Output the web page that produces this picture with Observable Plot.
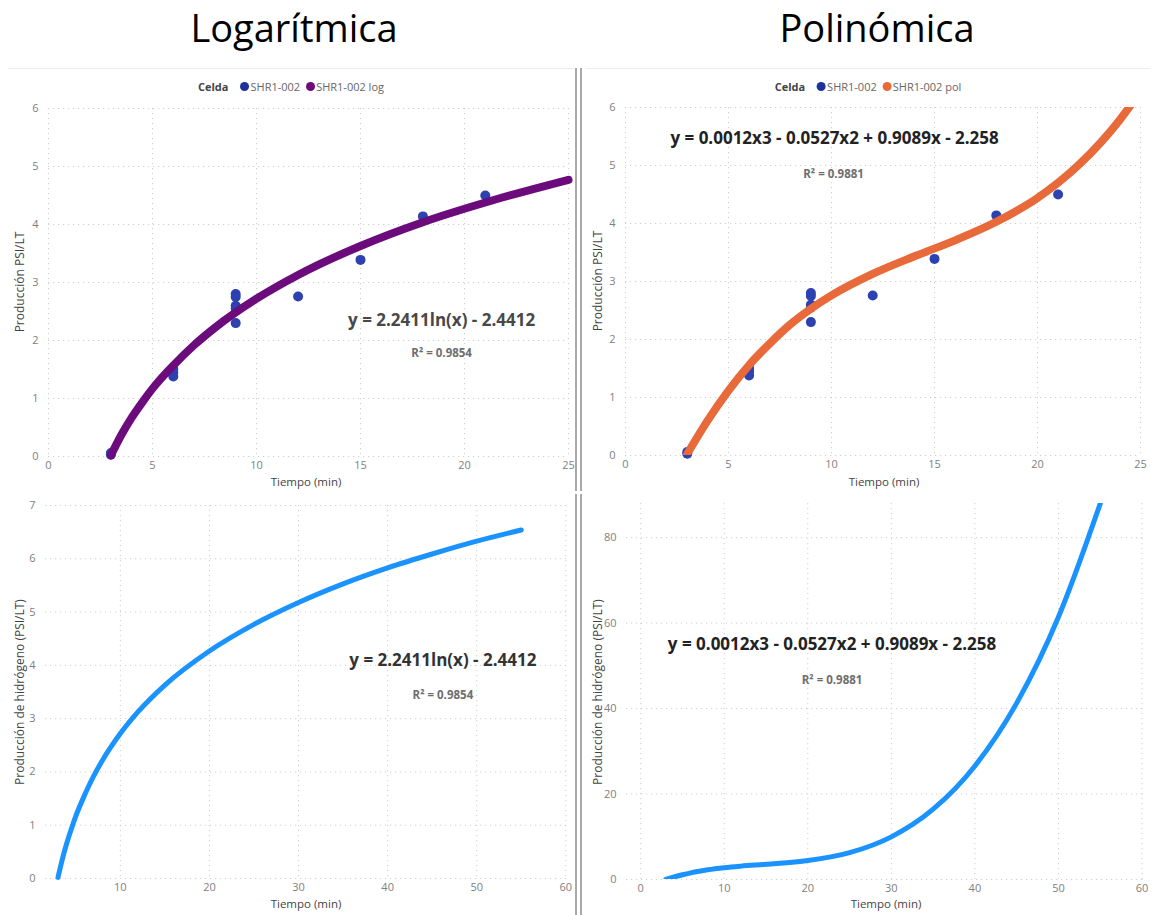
<!DOCTYPE html>
<html>
<head>
<meta charset="utf-8">
<script src="https://cdn.jsdelivr.net/npm/d3@7"></script>
<script src="https://cdn.jsdelivr.net/npm/@observablehq/plot@0.6"></script>
<style>
  body { margin: 0; background: #fff; }
  #root { position: relative; width: 1155px; height: 915px; overflow: hidden; font-family: 'Open Sans', sans-serif; }
  .abs { position: absolute; white-space: nowrap; }
  .title { font-size: 38px; color: #000; transform: translateX(-50%); line-height: 1; }
  .xlab { font-size: 11.5px; color: #444; transform: translateX(-50%); line-height: 1; }
  .ylab { font-size: 12px; color: #444; transform: translate(-50%, -50%) rotate(-90deg); line-height: 1; }
  .legend { font-size: 11px; color: #666; transform: translateX(-50%); display: flex; align-items: center; line-height: 1; }
  .legend b { color: #444; margin-right: 6px; }
  .legend .dot { display: inline-block; width: 9px; height: 9px; border-radius: 50%; margin: 0 1px 0 6px; }
  .vline { background: #a9a9a9; width: 2px; }
  .hline { background: #ececec; height: 1px; }
</style>
</head>
<body>
<div id="root"></div>
<script>
// ---------- data ----------
const panelTitles = ["Logarítmica", "Polinómica"];
const legendTitle = "Celda";
const seriesObs = "SHR1-002";
const seriesLog = "SHR1-002 log";
const seriesPol = "SHR1-002 pol";
const xTitle = "Tiempo (min)";
const yTitleTop = "Producción PSI/LT";
const yTitleBottom = "Producción de hidrógeno (PSI/LT)";
const eqLog = "y = 2.2411ln(x) - 2.4412";
const r2Log = "R² = 0.9854";
const eqPol = "y = 0.0012x3 - 0.0527x2 + 0.9089x - 2.258";
const r2Pol = "R² = 0.9881";

// observed points (Tiempo, Producción)
const obsX = [3, 3, 6, 6, 6, 9, 9, 9, 9, 9, 12, 15, 18, 21];
const obsY = [0.03, 0.06, 1.51, 1.45, 1.38, 2.80, 2.75, 2.60, 2.55, 2.30, 2.76, 3.39, 4.14, 4.50];

// logarithmic trend
const logFitX = [3, 3.5, 4, 4.5, 5, 6, 7, 8, 10, 12, 15, 18, 21, 25];
const logFitY = [0.02, 0.37, 0.67, 0.93, 1.17, 1.57, 1.92, 2.22, 2.72, 3.13, 3.63, 4.04, 4.38, 4.77];

// polynomial trend
const polFitX = [3, 4, 5, 6, 7, 8, 9, 10, 12, 14, 16, 18, 20, 22, 24, 25];
const polFitY = [0.03, 0.61, 1.12, 1.56, 1.93, 2.26, 2.53, 2.76, 3.13, 3.43, 3.71, 4.03, 4.44, 5.01, 5.79, 6.28];

// logarithmic curve extended to 55 min (bottom-left)
const logExtX = [3, 3.5, 4, 4.5, 5, 6, 7, 8, 10, 12, 15, 20, 25, 30, 35, 40, 45, 50, 55];
const logExtY = [0.02, 0.37, 0.67, 0.93, 1.17, 1.57, 1.92, 2.22, 2.72, 3.13, 3.63, 4.27, 4.77, 5.18, 5.53, 5.83, 6.09, 6.33, 6.54];

// polynomial curve extended to 55 min (bottom-right)
const polExtX = [3, 4, 5, 6, 7, 8, 10, 12, 15, 20, 25, 30, 35, 40, 45, 50, 55];
const polExtY = [0.03, 0.61, 1.12, 1.56, 1.93, 2.26, 2.76, 3.13, 3.57, 4.44, 6.28, 9.98, 16.45, 26.58, 41.28, 61.44, 87.96];

// ticks
const xTicksTop = [0, 5, 10, 15, 20, 25];
const yTicksTop = [0, 1, 2, 3, 4, 5, 6];
const xTicksBL = [10, 20, 30, 40, 50, 60];
const yTicksBL = [0, 1, 2, 3, 4, 5, 6, 7];
const xTicksBR = [0, 10, 20, 30, 40, 50, 60];
const yTicksBR = [0, 20, 40, 60, 80];

// ---------- build ----------
const root = document.getElementById("root");
const toRows = (xs, ys) => xs.map((x, i) => ({x, y: ys[i]}));
const obs = toRows(obsX, obsY);

const C_OBS = "#2D41B1", C_LOG = "#6B0B7C", C_POL = "#E8693A", C_EXT = "#1A93FF";

function div(cls, text, style) {
  const d = document.createElement("div");
  d.className = "abs " + cls;
  if (text != null) d.textContent = text;
  Object.assign(d.style, style);
  root.appendChild(d);
  return d;
}

function panel(o) {
  const gridStyle = {stroke: "#cfcfcf", strokeOpacity: 1, strokeDasharray: "1.2,3.8", strokeWidth: 1};
  const svg = Plot.plot({
    width: o.width, height: o.height,
    marginTop: o.mt, marginRight: o.mr, marginBottom: o.mb, marginLeft: o.ml,
    x: {domain: o.xDomain},
    y: {domain: o.yDomain},
    style: {fontFamily: "'Open Sans', sans-serif", fontSize: "11px", color: "#808080", background: "transparent", overflow: "visible"},
    marks: [
      Plot.gridX({ticks: o.xTicks, ...gridStyle}),
      Plot.gridY({ticks: o.yTicks, ...gridStyle}),
      Plot.axisX({ticks: o.xTicks, tickSize: 0, tickPadding: 5, label: null, tickFormat: d => String(d)}),
      Plot.axisY({ticks: o.yTicks, tickSize: 0, tickPadding: 10, label: null, tickFormat: d => String(d)}),
      ...o.marks
    ]
  });
  svg.style.position = "absolute";
  svg.style.left = o.left + "px";
  svg.style.top = o.top + "px";
  root.appendChild(svg);
}

function eqMarks(eq, r2, ex, ey, rx, ry, fill) {
  return [
    Plot.text([eq], {x: () => ex, y: () => ey, text: d => d, fontSize: 17, fontWeight: "bold", fill}),
    Plot.text([r2], {x: () => rx, y: () => ry, text: d => d, fontSize: 11.5, fontWeight: "bold", fill: "#6e6e6e"})
  ];
}

// titles
div("title", panelTitles[0], {left: "294px", top: "8px"});
div("title", panelTitles[1], {left: "877px", top: "8px"});

// separators
div("hline", null, {left: "8px", top: "68px", width: "566px"});
div("hline", null, {left: "586px", top: "68px", width: "564px"});
div("vline", null, {left: "575px", top: "68px", height: "423px"});
div("vline", null, {left: "580px", top: "68px", height: "423px"});
div("vline", null, {left: "575px", top: "494px", height: "421px"});
div("vline", null, {left: "580px", top: "494px", height: "421px"});

// legends
function legend(cx, second, secondColor) {
  const l = div("legend", null, {left: cx + "px", top: "81px"});
  l.innerHTML = `<b>${legendTitle}</b><span class="dot" style="background:#1e2f9e"></span>${seriesObs}<span class="dot" style="background:${secondColor}"></span>${second}`;
}
legend(291, seriesLog, C_LOG);
legend(868, seriesPol, C_POL);

const lineOpts = {x: "x", y: "y", curve: "monotone-x", strokeLinecap: "round", strokeLinejoin: "round"};

// top-left: logarithmic fit
panel({
  left: 0, top: 90, width: 576, height: 390, mt: 18, mr: 8, mb: 24, ml: 48,
  xDomain: [0, 25], yDomain: [0, 6], xTicks: xTicksTop, yTicks: yTicksTop,
  marks: [
    Plot.dot(obs, {x: "x", y: "y", r: 5, fill: C_OBS}),
    Plot.line(toRows(logFitX, logFitY), {...lineOpts, stroke: C_LOG, strokeWidth: 8}),
    ...eqMarks(eqLog, r2Log, 18.9, 2.34, 18.9, 1.78, "#484848")
  ]
});

// top-right: polynomial fit
panel({
  left: 580, top: 90, width: 575, height: 390, mt: 17, mr: 15, mb: 25, ml: 45,
  xDomain: [0, 25], yDomain: [0, 6], xTicks: xTicksTop, yTicks: yTicksTop,
  marks: [
    Plot.dot(obs, {x: "x", y: "y", r: 5, fill: C_OBS}),
    Plot.line(toRows(polFitX, polFitY), {...lineOpts, stroke: C_POL, strokeWidth: 8, clip: true}),
    ...eqMarks(eqPol, r2Pol, 10.15, 5.47, 10.1, 4.84, "#222")
  ]
});

// bottom-left: log curve extended
panel({
  left: 0, top: 495, width: 576, height: 420, mt: 10, mr: 8, mb: 37, ml: 45,
  xDomain: [1.6, 60.3], yDomain: [0, 7], xTicks: xTicksBL, yTicks: yTicksBL,
  marks: [
    Plot.line(toRows(logExtX, logExtY), {...lineOpts, stroke: C_EXT, strokeWidth: 5}),
    ...eqMarks(eqLog, r2Log, 46.2, 4.09, 46.2, 3.43, "#333")
  ]
});

// bottom-right: polynomial curve extended
panel({
  left: 580, top: 495, width: 575, height: 420, mt: 8, mr: 11, mb: 36, ml: 46,
  xDomain: [-1.7, 60.3], yDomain: [0, 88], xTicks: xTicksBR, yTicks: yTicksBR,
  marks: [
    Plot.line(toRows(polExtX, polExtY), {...lineOpts, stroke: C_EXT, strokeWidth: 5, clip: true}),
    ...eqMarks(eqPol, r2Pol, 22.9, 55.0, 22.9, 46.6, "#222")
  ]
});

// axis titles
div("xlab", xTitle, {left: "306px", top: "476px"});
div("xlab", xTitle, {left: "884px", top: "476px"});
div("xlab", xTitle, {left: "306px", top: "898px"});
div("xlab", xTitle, {left: "886px", top: "898px"});
div("ylab", yTitleTop, {left: "20px", top: "282px"});
div("ylab", yTitleTop, {left: "598px", top: "281px"});
div("ylab", yTitleBottom, {left: "20px", top: "692px"});
div("ylab", yTitleBottom, {left: "598px", top: "692px"});
</script>
</body>
</html>
